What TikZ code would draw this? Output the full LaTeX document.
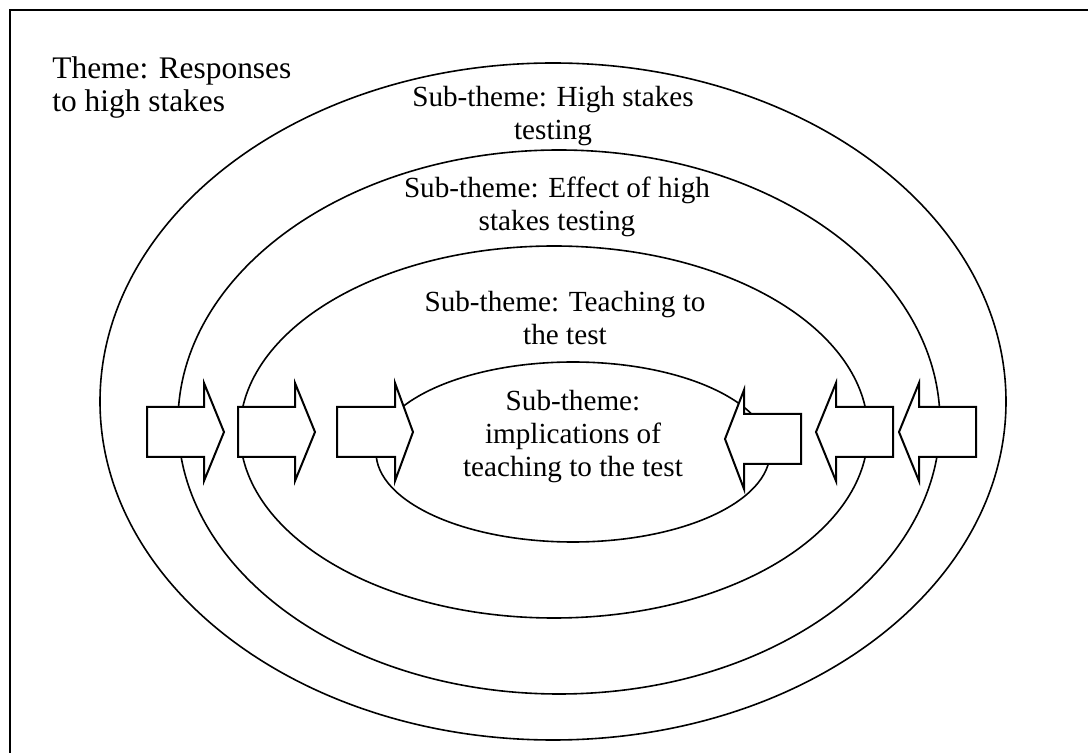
\documentclass[tikz,border=0pt]{standalone}
\usepackage{fontspec}
\setmainfont{Liberation Serif}
\begin{document}
\begin{tikzpicture}[x=0.5pt,y=-0.5pt,
  ring/.style={draw=black,line width=0.8pt},
  arrowshape/.style={draw=black,fill=white,line width=1pt,line join=miter},
  label/.style={font=\fontsize{14.6}{16.5}\selectfont,inner sep=0pt,align=center,anchor=base}]
\useasboundingbox (0,0) rectangle (1088,753);
\clip (0,0) rectangle (1088,753);
% frame
\draw[line width=0.9pt] (10,1100) -- (10,10) -- (1200,10);
% nested theme ellipses
\draw[ring] (553,401.5) ellipse [x radius=453, y radius=338.5];
\draw[ring] (559,422) ellipse [x radius=381, y radius=272];
\draw[ring] (554,432) ellipse [x radius=314, y radius=186];
\draw[ring] (573,452) ellipse [x radius=197, y radius=90];
% block arrows pointing inwards from the left
\foreach \n/\a/\b/\c in {l1/147/204/224, l2/238/295/315, l3/337/395/413}{
  \draw[arrowshape] (\a,407) -- (\b,407) -- (\b,383) -- (\c,432) -- (\b,481)
     -- (\b,457) -- (\a,457) -- cycle;
}
% block arrows pointing inwards from the right
\draw[arrowshape] (801,414) -- (744,414) -- (744,390) -- (725,439) -- (744,489)
     -- (744,464) -- (801,464) -- cycle;
\foreach \n/\a/\b/\c in {r2/893/836/816, r3/976/919/899}{
  \draw[arrowshape] (\a,407) -- (\b,407) -- (\b,383) -- (\c,432) -- (\b,481)
     -- (\b,457) -- (\a,457) -- cycle;
}
% labels (anchored on the baseline of their last line)
\node[label,font=\fontsize{15.7}{16.5}\selectfont,align=left,anchor=base west] (theme) at (52,112) {Theme: Responses\\to high stakes};
\node[label] (s1) at (553,140) {Sub-theme: High stakes\\testing};
\node[label] (s2) at (557,231) {Sub-theme: Effect of high\\stakes testing};
\node[label] (s3) at (565,345) {Sub-theme: Teaching to\\the test};
\node[label] (s4) at (573,477) {Sub-theme:\\implications of\\teaching to the test};
\end{tikzpicture}
\end{document}
